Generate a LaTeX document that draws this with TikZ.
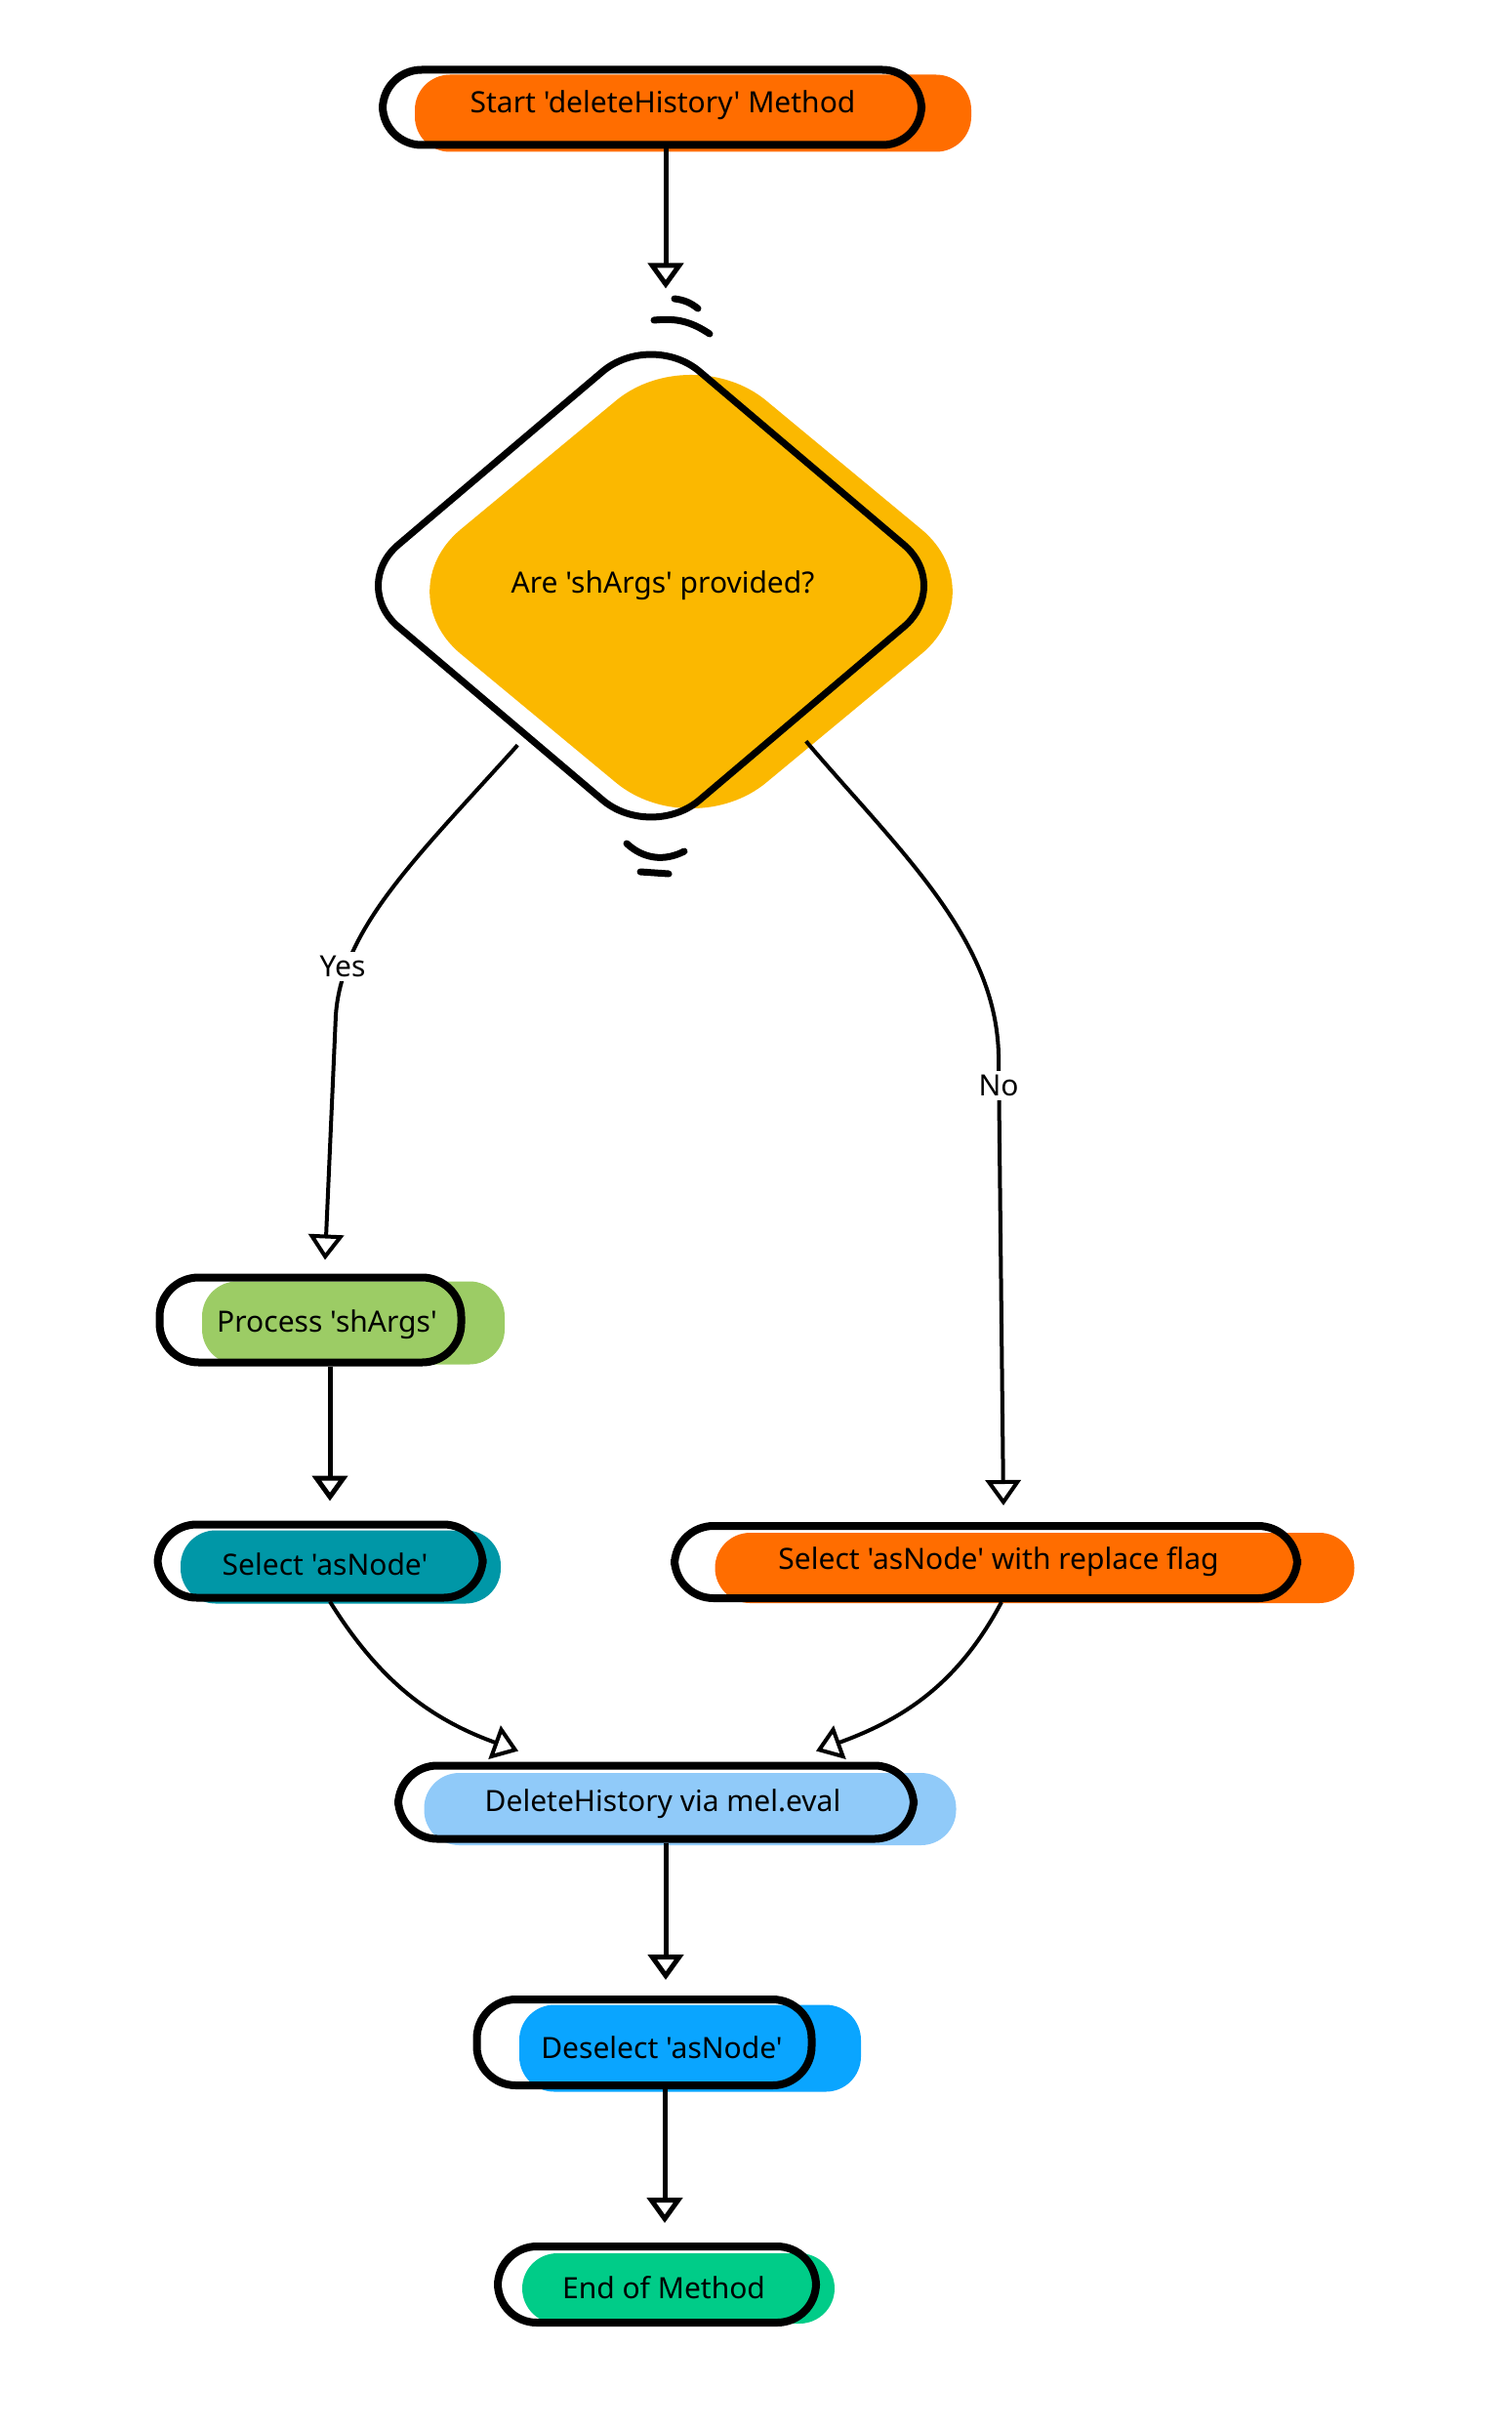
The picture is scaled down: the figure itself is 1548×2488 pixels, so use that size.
\documentclass[tikz,border=0pt]{standalone}
\usepackage{fontspec}
\newfontfamily\flowfont{Noto Sans}
\usetikzlibrary{shapes.geometric,arrows.meta,positioning}

\definecolor{startorange}{HTML}{FF6D00}
\definecolor{decisionamber}{HTML}{FBB800}
\definecolor{processgreen}{HTML}{9CCC65}
\definecolor{selectteal}{HTML}{0097A7}
\definecolor{deleteblue}{HTML}{90CAF9}
\definecolor{deselectblue}{HTML}{0AA5FF}
\definecolor{endgreen}{HTML}{00CC88}

\tikzset{
  pillfill/.style={rectangle, rounded corners=36pt, draw=none, inner sep=0pt},
  pillline/.style={rectangle, rounded corners=40pt, draw=black, line width=8pt, inner sep=0pt},
  lbl/.style={font=\flowfont\fontsize{30}{36}\selectfont, text=black},
  edgelbl/.style={font=\flowfont\fontsize{30}{36}\selectfont, fill=white, inner sep=4pt},
  flow/.style={line width=5pt, -{Triangle[open, length=26pt, width=36pt]}},
  curveflow/.style={line width=4pt, -{Triangle[open, length=26pt, width=36pt]}},
  tick/.style={line width=7pt, line cap=round},
}

\begin{document}
\begin{tikzpicture}[x=1pt, y=-1pt]
  \useasboundingbox (0,0) rectangle (1548,2488);

  % Start
  \node[pillfill, fill=startorange, minimum width=570pt, minimum height=79pt] (startfill) at (710,116) {};
  \node[pillline, minimum width=552pt, minimum height=77pt] (start) at (668,110) {};
  \node[lbl] (starttext) at (679,108) {Start 'deleteHistory' Method};

  % Decision
  \node[diamond, fill=decisionamber, rounded corners=100pt, minimum width=626pt, minimum height=519pt, inner sep=0pt] (decisionfill) at (708,606) {};
  \node[diamond, draw=black, line width=7pt, rounded corners=65pt, minimum width=620pt, minimum height=526pt, inner sep=0pt] (decision) at (667,600) {};
  \node[lbl] (decisiontext) at (679,600) {Are 'shArgs' provided?};
  \draw[tick] (691,306) to[bend left=15] (715,316);
  \draw[tick] (670,328) to[bend left=20] (727,342);
  \draw[tick] (642,864) to[bend right=35] (701,872);
  \draw[tick] (656,893) -- (685,895);

  % Process shArgs
  \node[pillfill, fill=processgreen, minimum width=310pt, minimum height=85pt] (processfill) at (362,1355) {};
  \node[pillline, minimum width=309pt, minimum height=87pt] (process) at (318,1352) {};
  \node[lbl] (processtext) at (335,1357) {Process 'shArgs'};

  % Select asNode
  \node[pillfill, fill=selectteal, minimum width=328pt, minimum height=75pt] (selectfill) at (349,1605) {};
  \node[pillline, minimum width=333pt, minimum height=75pt] (select) at (328,1599) {};
  \node[lbl] (selecttext) at (333,1602) {Select 'asNode'};

  % Select with replace flag
  \node[pillfill, fill=startorange, minimum width=655pt, minimum height=72pt] (replacefill) at (1060,1606) {};
  \node[pillline, minimum width=638pt, minimum height=74pt] (replace) at (1010,1600) {};
  \node[lbl] (replacetext) at (1023,1600) {Select 'asNode' with replace flag};

  % DeleteHistory
  \node[pillfill, fill=deleteblue, minimum width=545pt, minimum height=74pt] (deletefill) at (707,1853) {};
  \node[pillline, minimum width=528pt, minimum height=75pt] (delete) at (672,1846) {};
  \node[lbl] (deletetext) at (679,1848) {DeleteHistory via mel.eval};

  % Deselect asNode
  \node[pillfill, fill=deselectblue, minimum width=350pt, minimum height=89pt] (deselectfill) at (707,2098) {};
  \node[pillline, minimum width=343pt, minimum height=88pt] (deselect) at (660,2092) {};
  \node[lbl] (deselecttext) at (678,2097) {Deselect 'asNode'};

  % End
  \node[pillfill, fill=endgreen, minimum width=320pt, minimum height=72pt] (endfill) at (695,2344) {};
  \node[pillline, minimum width=326pt, minimum height=78pt] (end) at (673,2340) {};
  \node[lbl] (endtext) at (680,2343) {End of Method};

  % connectors
  \draw[flow] ([xshift=14pt]start.south) -- ([xshift=15pt,yshift=38pt]decision.north);
  \draw[curveflow] ([xshift=20pt,yshift=-30pt]decision.south west)
    .. controls (430,875) and (350,950) .. (344,1040)
    -- ([xshift=15pt,yshift=14pt]process.north);
  \node[edgelbl] (yes) at (351,990) {Yes};
  \draw[curveflow] ([xshift=2pt,yshift=-26pt]decision.south east)
    .. controls (920,870) and (1020,960) .. (1023,1080)
    -- ([xshift=18pt,yshift=17pt]replace.north);
  \node[edgelbl] (no) at (1023,1112) {No};
  \draw[flow] ([xshift=20pt]process.south) -- ([xshift=10pt,yshift=20pt]select.north);
  \draw[curveflow] ([xshift=10pt]select.south) to[out=-58, in=160] ([xshift=-141pt,yshift=11pt]delete.north);
  \draw[curveflow] ([xshift=16pt]replace.south) to[out=-118, in=20] ([xshift=164pt,yshift=11pt]delete.north);
  \draw[flow] ([xshift=10pt]delete.south) -- ([xshift=22pt,yshift=16pt]deselect.north);
  \draw[flow] ([xshift=21pt]deselect.south) -- ([xshift=8pt,yshift=20pt]end.north);
\end{tikzpicture}
\end{document}
